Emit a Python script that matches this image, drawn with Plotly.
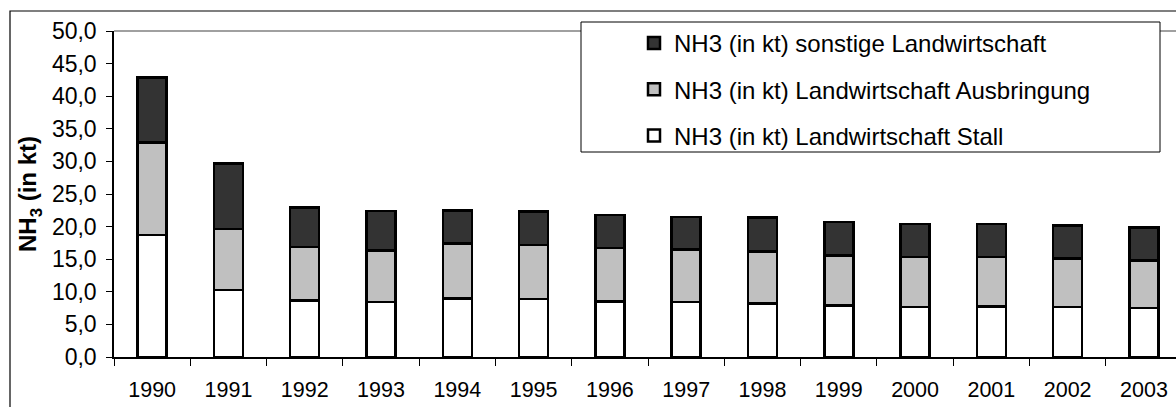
import plotly.graph_objects as go

years = ["1990", "1991", "1992", "1993", "1994", "1995", "1996",
         "1997", "1998", "1999", "2000", "2001", "2002", "2003"]
stall = [18.7, 10.3, 8.7, 8.4, 9.0, 8.9, 8.5, 8.4, 8.2, 7.9, 7.7, 7.75, 7.7, 7.5]
ausbringung = [14.2, 9.3, 8.2, 7.9, 8.4, 8.3, 8.2, 8.1, 8.0, 7.7, 7.6, 7.55, 7.4, 7.3]
sonstige = [10.0, 10.05, 6.06, 6.1, 5.1, 5.1, 5.1, 5.0, 5.2, 5.1, 5.1, 5.1, 5.1, 5.1]

names = ["NH3 (in kt) Landwirtschaft Stall",
         "NH3 (in kt) Landwirtschaft Ausbringung",
         "NH3 (in kt) sonstige Landwirtschaft"]
colors = ["#FFFFFF", "#C0C0C0", "#333333"]
series = [stall, ausbringung, sonstige]
legend_rank = [3, 2, 1]  # top legend entry = top stack segment

FONT = "Arial, Liberation Sans, sans-serif"

fig = go.Figure()
for i, (nm, col, vals) in enumerate(zip(names, colors, series)):
    fig.add_trace(go.Bar(
        x=years, y=vals, name=nm, legendgroup=f"g{i}",
        legendrank=legend_rank[i],
        marker=dict(color=col, line=dict(color="#000000", width=2.5)),
    ))

# pixel geometry of the plot area
L, R, T, B = 114, 1176, 31, 357
W, H = R - L, B - T

def px(x):
    return (x - L) / W

def py(y):
    return (B - y) / H

fig.update_layout(
    width=1176, height=407,
    margin=dict(l=L, r=1176 - R, t=T, b=407 - B, pad=0),
    paper_bgcolor="white", plot_bgcolor="white",
    barmode="stack", bargap=0.62,
    separators=",.",
    font=dict(family=FONT, size=22, color="#000000"),
    showlegend=True,
    legend=dict(
        x=px(634), y=py(21), xanchor="left", yanchor="top",
        bgcolor="rgba(0,0,0,0)", borderwidth=0,
        font=dict(family=FONT, size=24, color="#000000"),
        traceorder="grouped", tracegroupgap=12,
    ),
    xaxis=dict(
        type="category", range=[-0.5, 13.42],
        tickson="boundaries", ticks="outside", ticklen=7, tickwidth=1,
        tickcolor="#000000", showline=True, linecolor="#000000", linewidth=1.5,
        showgrid=False, zeroline=False,
        tickfont=dict(family=FONT, size=21.5, color="#000000"),
        ticklabelstandoff=12,
    ),
    yaxis=dict(
        range=[0, 50], dtick=5, tick0=0, tickformat=".1f",
        ticks="outside", ticklen=6, tickwidth=1, tickcolor="#000000",
        showline=True, linecolor="#000000", linewidth=1.5,
        showgrid=False, zeroline=False,
        tickfont=dict(family=FONT, size=23, color="#000000"),
        ticklabelstandoff=5,
        title=dict(text="<b>NH<sub>3</sub> (in kt)</b>",
                   font=dict(family=FONT, size=24, color="#000000"),
                   standoff=8),
    ),
    shapes=[
        dict(type="line", xref="paper", yref="paper", x0=0, x1=1, y0=1, y1=1,
             line=dict(color="#808080", width=1.5), layer="above"),
        dict(type="rect", xref="paper", yref="paper",
             x0=px(581), x1=px(1160), y0=py(152), y1=py(22),
             fillcolor="white", line=dict(color="#000000", width=1), layer="above"),
        dict(type="rect", xref="paper", yref="paper",
             x0=px(10), x1=1.2, y0=-0.5, y1=py(11),
             fillcolor="rgba(0,0,0,0)", line=dict(color="#000000", width=1.2),
             layer="above"),
    ],
)

fig.write_html("out.html")
